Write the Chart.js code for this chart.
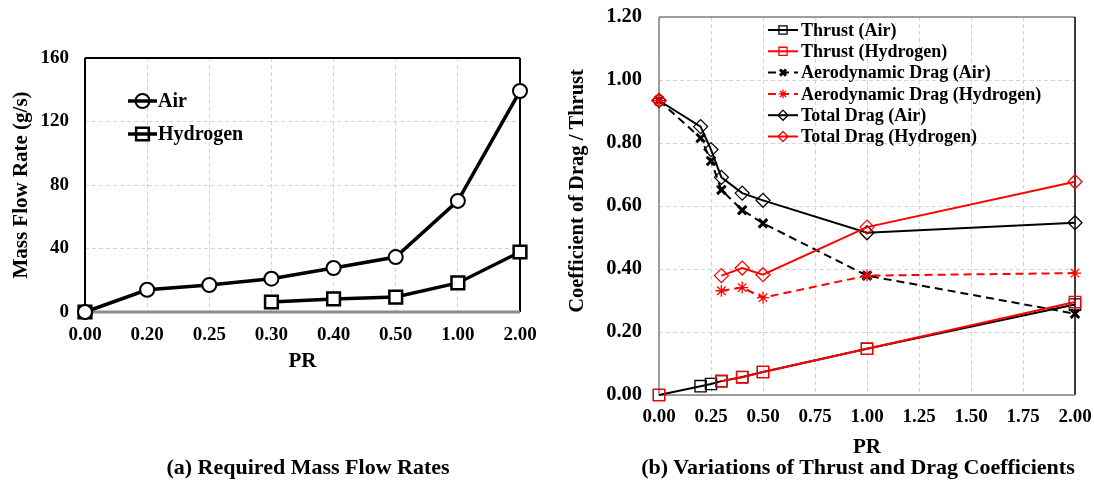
<!DOCTYPE html>
<html>
<head>
<meta charset="utf-8">
<script src="https://cdn.jsdelivr.net/npm/chart.js@4.4.0/dist/chart.umd.min.js"></script>
<style>
  body { margin: 0; background: #fff; width: 1094px; height: 486px; position: relative; overflow: hidden;
         font-family: 'Liberation Serif', 'Times New Roman', serif; font-weight: bold; color: #000; }
  #left { position: absolute; left: 0; top: 0; }
  #right { position: absolute; left: 547px; top: 0; }
  .cap { position: absolute; top: 454px; font-size: 22px; white-space: nowrap; transform: translateX(-50%); }
</style>
</head>
<body>
<canvas id="left" width="547" height="486"></canvas>
<canvas id="right" width="547" height="486"></canvas>
<div class="cap" style="left:308px">(a) Required Mass Flow Rates</div>
<div class="cap" style="left:858px">(b) Variations of Thrust and Drag Coefficients</div>
<script>
// (a) mass flow rates, category axis
const prLabels = ["0.00", "0.20", "0.25", "0.30", "0.40", "0.50", "1.00", "2.00"];
const airFlow = [0, 14, 17, 21, 27.7, 34.6, 70, 139.2];
const hydrogenFlow = [0, null, null, 6.3, 8.2, 9.4, 18.3, 37.8];

// (b) coefficients, linear PR axis
const prValues = [0, 0.2, 0.25, 0.3, 0.4, 0.5, 1.0, 2.0];
const thrustAir = [0, 0.028, 0.035, 0.044, 0.057, 0.073, 0.147, 0.287];
const thrustHydrogen = [0, null, null, 0.044, 0.056, 0.073, 0.147, 0.295];
const aeroAir = [0.935, 0.816, 0.743, 0.651, 0.587, 0.545, 0.379, 0.258];
const aeroHydrogen = [0.935, null, null, 0.331, 0.341, 0.309, 0.379, 0.387];
const totalAir = [0.935, 0.852, 0.779, 0.691, 0.641, 0.618, 0.515, 0.547];
const totalHydrogen = [0.935, null, null, 0.379, 0.403, 0.382, 0.533, 0.677];

const serif = "'Liberation Serif', 'Times New Roman', serif";
const RED = '#ff0000';
const GRID = '#d4d4d4';

function pts(ys) {
  return ys.map((y, i) => ({ x: prValues[i], y: y }));
}

// frame round the plot area
function boxPlugin(sides) {
  return {
    id: 'box',
    beforeDatasetsDraw(chart) {
      const a = chart.chartArea, ctx = chart.ctx;
      ctx.save();
      const seg = (s, x1, y1, x2, y2) => {
        ctx.beginPath();
        ctx.lineWidth = s.w; ctx.strokeStyle = s.c;
        ctx.moveTo(x1, y1); ctx.lineTo(x2, y2); ctx.stroke();
      };
      seg(sides.top, a.left, a.top, a.right, a.top);
      seg(sides.right, a.right, a.top, a.right, a.bottom);
      seg(sides.bottom, a.left, a.bottom, a.right, a.bottom);
      seg(sides.left, a.left, a.top, a.left, a.bottom);
      ctx.restore();
    }
  };
}

// legend drawn inside the plot: line + marker + text
function legendPlugin(cfg) {
  return {
    id: 'inLegend',
    afterDraw(chart) {
      const a = chart.chartArea, ctx = chart.ctx;
      ctx.save();
      ctx.font = 'bold ' + cfg.size + 'px ' + serif;
      ctx.textBaseline = 'middle';
      chart.data.datasets.forEach((ds, i) => {
        const y = a.top + cfg.top + i * cfg.step;
        const x = a.left + cfg.left;
        ctx.beginPath();
        ctx.strokeStyle = ds.borderColor;
        ctx.lineWidth = ds.borderWidth;
        ctx.setLineDash(ds.borderDash || []);
        ctx.moveTo(x, y); ctx.lineTo(x + cfg.len, y); ctx.stroke();
        ctx.setLineDash([]);
        ctx.fillStyle = 'rgba(0,0,0,0)';
        ctx.strokeStyle = ds.pointBorderColor;
        ctx.lineWidth = ds.pointBorderWidth;
        Chart.helpers.drawPoint(ctx, { pointStyle: ds.pointStyle, radius: ds.pointRadius * cfg.scale, rotation: 0,
          borderWidth: ds.pointBorderWidth }, x + cfg.len / 2, y);
        ctx.fillStyle = '#000';
        ctx.fillText(ds.label, x + cfg.len + cfg.gap, y + 1);
      });
      ctx.restore();
    }
  };
}

// rotated y title placed by hand (not centred on the plot in the reference)
function yTitlePlugin(text, x, y, size) {
  return {
    id: 'yTitle',
    afterDraw(chart) {
      const ctx = chart.ctx;
      ctx.save();
      ctx.translate(x, y);
      ctx.rotate(-Math.PI / 2);
      ctx.font = 'bold ' + size + 'px ' + serif;
      ctx.textAlign = 'center';
      ctx.textBaseline = 'middle';
      ctx.fillStyle = '#000';
      ctx.fillText(text, 0, 0);
      ctx.restore();
    }
  };
}

const tickFont = { family: serif, size: 19, weight: 'bold' };
const titleFont = { family: serif, size: 21, weight: 'bold', lineHeight: 1.2 };

// ---------- chart (a)
new Chart(document.getElementById('left'), {
  type: 'line',
  data: {
    labels: prLabels,
    datasets: [{
      label: 'Air',
      data: airFlow,
      borderColor: '#000', borderWidth: 3.5,
      pointStyle: 'circle', pointRadius: 7, pointBorderWidth: 2,
      pointBorderColor: '#000', pointBackgroundColor: '#fff',
      tension: 0, clip: false
    }, {
      label: 'Hydrogen',
      data: hydrogenFlow,
      borderColor: '#000', borderWidth: 3.5,
      pointStyle: 'rect', pointRadius: 9, pointBorderWidth: 2.5,
      pointBorderColor: '#000', pointBackgroundColor: '#fff',
      tension: 0, spanGaps: false, clip: false
    }]
  },
  options: {
    responsive: false, animation: false, devicePixelRatio: 1,
    layout: { padding: { left: 0, right: 27, top: 58, bottom: 112 } },
    plugins: { legend: { display: false }, tooltip: { enabled: false } },
    scales: {
      x: {
        type: 'category', offset: false,
        grid: { color: GRID, drawTicks: false, offset: false },
        border: { display: false, dash: [4, 3] },
        ticks: { font: tickFont, color: '#000', padding: 12, maxRotation: 0 },
        title: { display: true, text: 'PR', font: titleFont, color: '#000', padding: 0 },
        afterFit(s) { s.height = 62; s.paddingLeft = 0; s.paddingRight = 0; }
      },
      y: {
        min: 0, max: 160,
        grid: { color: GRID, drawTicks: false },
        border: { display: false, dash: [4, 3] },
        ticks: { stepSize: 40, font: tickFont, color: '#000', padding: 16 },
        title: { display: true, text: 'Mass Flow Rate (g/s)', font: titleFont, color: '#000', padding: { top: 9, bottom: 0 } },
        afterFit(s) { s.width = 85; s.paddingTop = 0; s.paddingBottom = 0; }
      }
    }
  },
  plugins: [
    boxPlugin({ top: { w: 2, c: '#000' }, right: { w: 2, c: '#000' }, bottom: { w: 3, c: '#8c8c8c' }, left: { w: 2, c: '#000' } }),
    legendPlugin({ left: 43, top: 43, step: 33, len: 29, gap: 1, scale: 1, size: 20 })
  ]
});

// ---------- chart (b)
function ds(label, ys, color, style, dashed, bw, pr) {
  return {
    label: label, data: pts(ys),
    borderColor: color, borderWidth: 2, borderDash: dashed ? [8, 5] : [],
    pointStyle: style, pointRadius: pr, pointBorderWidth: bw,
    pointBorderColor: color, pointBackgroundColor: 'rgba(0,0,0,0)',
    tension: 0, spanGaps: false, clip: false
  };
}

const rightSets = [
  ds('Thrust (Air)', thrustAir, '#000', 'rect', false, 1.3, 8),
  ds('Thrust (Hydrogen)', thrustHydrogen, RED, 'rect', false, 1.3, 8),
  ds('Aerodynamic Drag (Air)', aeroAir, '#000', 'crossRot', true, 3, 6),
  ds('Aerodynamic Drag (Hydrogen)', aeroHydrogen, RED, 'star', true, 1.3, 6),
  ds('Total Drag (Air)', totalAir, '#000', 'rectRot', false, 1.3, 7),
  ds('Total Drag (Hydrogen)', totalHydrogen, RED, 'rectRot', false, 1.3, 7)
];
// red series drawn on top
rightSets.forEach(d => { d.order = (d.borderColor === RED) ? 0 : 1; });

new Chart(document.getElementById('right'), {
  type: 'line',
  data: { datasets: rightSets },
  options: {
    responsive: false, animation: false, devicePixelRatio: 1,
    layout: { padding: { left: 0, right: 19, top: 17, bottom: 26 } },
    plugins: { legend: { display: false }, tooltip: { enabled: false } },
    scales: {
      x: {
        type: 'linear', min: 0, max: 2,
        grid: { color: GRID, drawTicks: false },
        border: { display: false, dash: [4, 3] },
        ticks: { stepSize: 0.25, font: tickFont, color: '#000', padding: 11, maxRotation: 0,
                 callback: v => v.toFixed(2) },
        title: { display: true, text: 'PR', font: titleFont, color: '#000', padding: 0 },
        afterFit(s) { s.height = 65; s.paddingLeft = 0; s.paddingRight = 0; }
      },
      y: {
        min: 0, max: 1.2,
        grid: { color: GRID, drawTicks: false },
        border: { display: false, dash: [4, 3] },
        ticks: { stepSize: 0.2, font: { family: serif, size: 20.5, weight: 'bold' }, color: '#000', padding: 17,
                 callback: v => v.toFixed(2) },
        title: { display: false },
        afterFit(s) { s.width = 112; s.paddingTop = 0; s.paddingBottom = 0; }
      }
    }
  },
  plugins: [
    boxPlugin({ top: { w: 1.5, c: '#7f7f7f' }, right: { w: 1.5, c: '#000' }, bottom: { w: 1.5, c: '#7f7f7f' }, left: { w: 1.5, c: '#7f7f7f' } }),
    legendPlugin({ left: 109, top: 13, step: 21.3, len: 30, gap: 3, scale: 0.72, size: 18 }),
    yTitlePlugin('Coefficient of Drag / Thrust', 31, 191, 20.5)
  ]
});
</script>
</body>
</html>
